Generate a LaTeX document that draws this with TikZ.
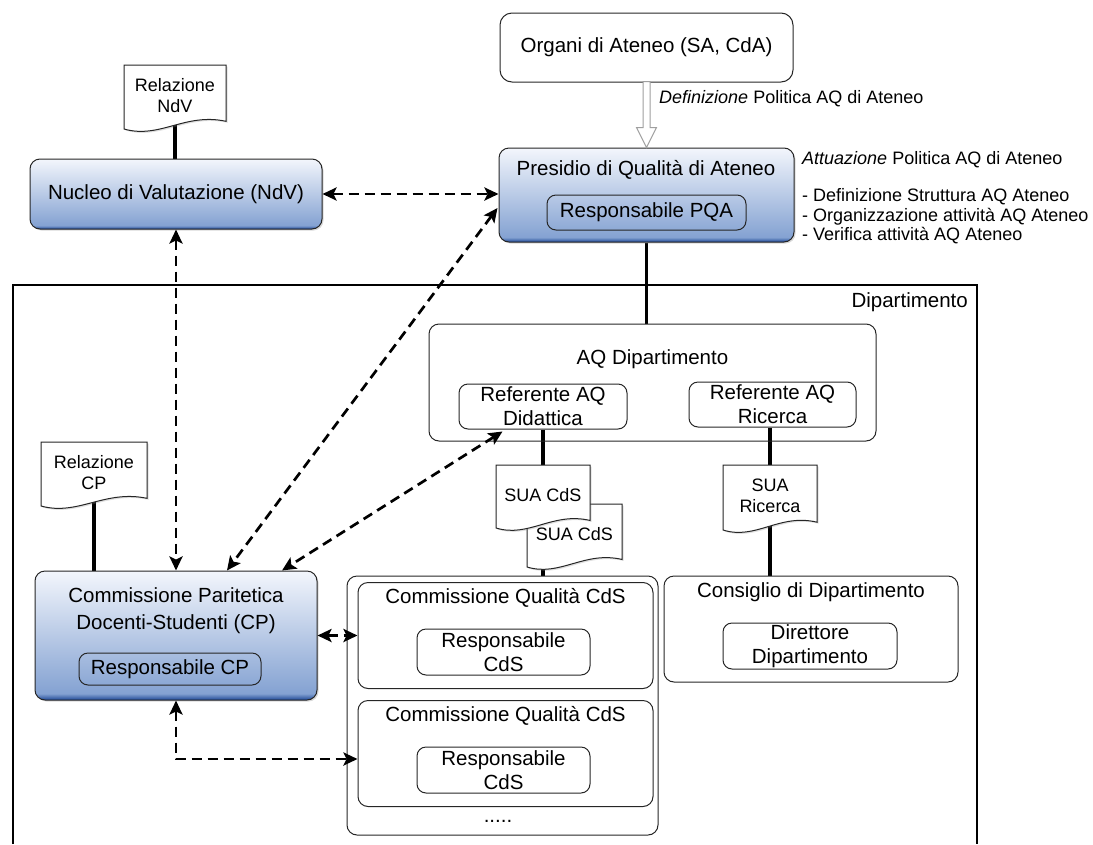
\documentclass[tikz,border=0pt]{standalone}
\usepackage{fontspec}
\setmainfont{Liberation Sans}
\usetikzlibrary{arrows.meta,calc,shadows,backgrounds}
\definecolor{bluetop}{RGB}{243,246,252}
\definecolor{bluebot}{RGB}{132,162,210}
\definecolor{blueedge}{RGB}{30,72,150}
\pgfdeclareverticalshading{bluefade}{100bp}{color(0bp)=(blueedge); color(25bp)=(blueedge); color(27.5bp)=(bluebot); color(75bp)=(bluetop); color(100bp)=(bluetop)}
\newcommand{\bigtxt}{\fontsize{20.5}{24}\selectfont}
\newcommand{\smalltxt}{\fontsize{18}{21}\selectfont}
\newcommand{\sidetxt}{\fontsize{18}{19.2}\selectfont}
% document shape: name, x, top, width, height, text
\newcommand{\docu}[6]{%
  \draw[docline] (#2-#4/2,#3) -- (#2+#4/2,#3) -- (#2+#4/2,#3+0.88*#5)
    .. controls (#2+0.1*#4,#3+0.74*#5) and (#2-0.15*#4,#3+1.16*#5) .. (#2-#4/2,#3+#5) -- cycle;
  \node[doctext] (#1) at (#2,#3+0.48*#5) {#6};
}
\begin{document}
\begin{tikzpicture}[x=1pt,y=-1pt,
    box/.style={draw=black!85, line width=1pt, rounded corners=10pt, inner sep=0pt, align=center, font=\bigtxt},
    bluebox/.style={box, shading=bluefade, drop shadow={shadow xshift=1.5pt, shadow yshift=-1.5pt, opacity=0.3}},
    inbox/.style={box, rounded corners=9pt},
    title/.style={inner sep=0pt, align=center, font=\bigtxt},
    docline/.style={draw=black!85, line width=1pt, fill=white, drop shadow={shadow xshift=1.5pt, shadow yshift=-1.5pt, opacity=0.25}},
    doctext/.style={inner sep=0pt, align=center, font=\smalltxt},
    link/.style={line width=3.5pt},
    dlink/.style={line width=2.7pt, dash pattern=on 10pt off 6pt, >={Stealth[length=14pt,width=13pt,inset=3pt]}, <->},
    hollow/.style={draw=gray!75, line width=1pt, fill=white}]
\useasboundingbox (0,0) rectangle (1093,844);

\draw[line width=2pt] (13,844) |- (977,285) -- (977,844);
\node[title, anchor=east] (dept) at (968,302) {Dipartimento};

\node[box, minimum width=293pt, minimum height=69pt, rounded corners=12pt] (org) at (646.5,47.5) {Organi di Ateneo (SA, CdA)};
\node[anchor=west, inner sep=0pt, font=\sidetxt] (defn) at (659,99) {\textit{Definizione} Politica AQ di Ateneo};

\node[bluebox, minimum width=295pt, minimum height=94pt] (pqa) at (646.5,195) {};
\node[title] (pqat) at (646,170) {Presidio di Qualità di Ateneo};
\node[inbox, minimum width=199pt, minimum height=35pt] (rpqa) at (646.5,212.5) {Responsabile PQA};
\node[anchor=north west, align=left, inner sep=0pt, font=\sidetxt] (attu) at (802,151.5)
  {\textit{Attuazione} Politica AQ di Ateneo\\[18pt]- Definizione Struttura AQ Ateneo\\- Organizzazione attività AQ Ateneo\\- Verifica attività AQ Ateneo};

\node[bluebox, minimum width=292pt, minimum height=70pt] (ndv) at (176,194) {Nucleo di Valutazione (NdV)};

\node[box, minimum width=447pt, minimum height=117pt] (aqd) at (652.5,382.5) {};
\node[title] (aqdt) at (652.5,359) {AQ Dipartimento};
\node[inbox, minimum width=168pt, minimum height=45pt] (refdid) at (543,406.5) {Referente AQ\\Didattica};
\node[inbox, minimum width=167pt, minimum height=45pt] (refric) at (772.5,404.5) {Referente AQ\\Ricerca};

\node[box, minimum width=294pt, minimum height=106pt] (cons) at (811,629) {};
\node[title] (const) at (811,592) {Consiglio di Dipartimento};
\node[inbox, minimum width=174pt, minimum height=46pt] (dir) at (810,646) {Direttore\\Dipartimento};

\node[box, minimum width=311pt, minimum height=259pt] (cqc) at (502.5,705.5) {};
\node[title] (dots) at (498,821) {.....};
\foreach \i/\y in {1/635.5,2/753.5} {
  \node[box, minimum width=295pt, minimum height=106pt] (cq\i) at (505.5,\y) {};
  \node[title] (cqt\i) at (505.5,\y-38) {Commissione Qualità CdS};
  \node[inbox, minimum width=173pt, minimum height=46pt] (rcq\i) at (503.5,\y+16.5) {Responsabile\\CdS};
}

\node[bluebox, minimum width=282pt, minimum height=129pt] (cp) at (176,635.5) {};
\node[title] (cpt) at (176,611) {Commissione Paritetica\\[3pt]Docenti-Studenti (CP)};
\node[inbox, minimum width=182pt, minimum height=32pt] (rcp) at (170,669) {Responsabile CP};

\docu{rndv}{175}{65}{102}{64}{Relazione\\NdV}
\docu{rcpd}{94}{442}{106}{64}{Relazione\\CP}
\docu{sua2}{574.5}{504}{95}{63}{SUA CdS}
\docu{sua1}{543}{465}{94}{63}{SUA CdS}
\docu{suar}{770}{465}{94}{65}{SUA\\Ricerca}

\begin{scope}[on background layer]
\draw[link] (rndv) -- (rndv |- ndv.north);
\draw[link] (rcpd) -- (rcpd |- cp.north);
\draw[link] (pqa.south) -- (pqa.south |- aqd.north);
\draw[link] (refdid.south) -- (refdid.south |- cqc.north);
\draw[link] (suar |- refric.south) -- (suar |- cons.north);
\end{scope}

\draw[hollow] ($(org.south)+(-3.5,-1)$) -- ($(org.south |- pqa.north)+(-3.5,-20)$) -- ++(-6.5,0)
  -- (org.south |- pqa.north) -- ++(10,-20) -- ++(-6.5,0) -- ($(org.south)+(3.5,-1)$) -- cycle;

\draw[dlink] (ndv.east) -- (ndv.east -| pqa.west);
\draw[dlink] (ndv.south) -- (cp.north);
\draw[dlink] ($(pqa.west)+(-1,13)$) -- ($(cp.north)+(51,0)$);
\draw[dlink] ($(refdid.south west)+(44,2)$) -- ($(cp.north)+(106,0)$);
\draw[dlink] (cp.east) -- (cq1.west);
\draw[dlink] (cp.south) |- ($(cq2.west)+(0,5.5)$);
\end{tikzpicture}
\end{document}
